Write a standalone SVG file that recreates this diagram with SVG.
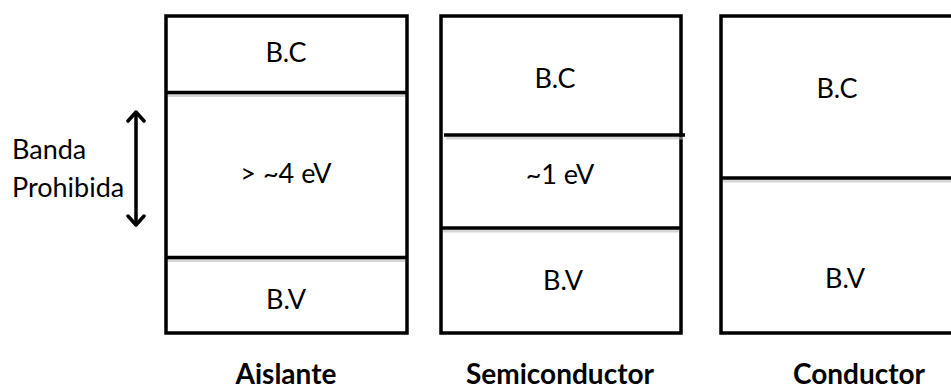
<svg xmlns="http://www.w3.org/2000/svg" width="951" height="390" viewBox="0 0 951 390">
<defs>
<style>
.box{fill:#fff;stroke:#000;stroke-width:3.5}
.ln{stroke:#000;stroke-width:3.5;fill:none}
.sh{stroke:#bbb;stroke-width:3;fill:none;opacity:0.6}
.t{font-family:Lato,"Liberation Sans",sans-serif;font-size:27px;fill:#000;text-anchor:middle}
.tl{font-family:Lato,"Liberation Sans",sans-serif;font-size:27px;fill:#000}
.b{font-family:Lato,"Liberation Sans",sans-serif;font-size:28px;font-weight:bold;fill:#000;text-anchor:middle}
</style>
<marker id="ah" viewBox="0 0 20 20" refX="17" refY="10" markerWidth="20" markerHeight="20" markerUnits="userSpaceOnUse" orient="auto-start-reverse">
<path d="M8,2 L17,10 L8,18" fill="none" stroke="#000" stroke-width="3.5" stroke-linecap="round" stroke-linejoin="round"/>
</marker>
</defs>
<rect width="951" height="390" fill="#fff"/>
<g id="aislante">
<rect class="box" x="166" y="16" width="241" height="317"/>
<line class="sh" x1="168" y1="95.5" x2="405" y2="95.5"/>
<line class="ln" x1="166" y1="92.5" x2="407" y2="92.5"/>
<line class="sh" x1="168" y1="260.5" x2="405" y2="260.5"/>
<line class="ln" x1="166" y1="257.5" x2="407" y2="257.5"/>
<text class="t" x="286" y="62">B.C</text>
<text class="t" x="286" y="183">&gt; ~4 eV</text>
<text class="t" x="286" y="309">B.V</text>
<text class="b" x="286" y="384">Aislante</text>
</g>
<g id="semiconductor">
<rect class="box" x="441" y="16" width="240" height="317"/>
<line class="sh" x1="446" y1="138" x2="683" y2="138"/>
<line class="ln" x1="444" y1="135" x2="685" y2="135"/>
<line class="sh" x1="443" y1="231" x2="679" y2="231"/>
<line class="ln" x1="441" y1="228" x2="681" y2="228"/>
<text class="t" x="555" y="88">B.C</text>
<text class="t" x="560" y="184">~1 eV</text>
<text class="t" x="563" y="290">B.V</text>
<text class="b" x="560" y="384">Semiconductor</text>
</g>
<g id="conductor">
<rect class="box" x="721" y="16" width="240" height="317"/>
<line class="sh" x1="723" y1="181" x2="951" y2="181"/>
<line class="ln" x1="721" y1="178" x2="951" y2="178"/>
<text class="t" x="837" y="98">B.C</text>
<text class="t" x="845" y="288">B.V</text>
<text class="b" x="859" y="384">Conductor</text>
</g>
<g id="banda-prohibida">
<text class="tl" x="12" y="159">Banda</text>
<text class="tl" x="12" y="197">Prohibida</text>
</g>
<g id="connectors">
<line class="ln" x1="136" y1="112" x2="136" y2="225" marker-start="url(#ah)" marker-end="url(#ah)"/>
</g>
</svg>
